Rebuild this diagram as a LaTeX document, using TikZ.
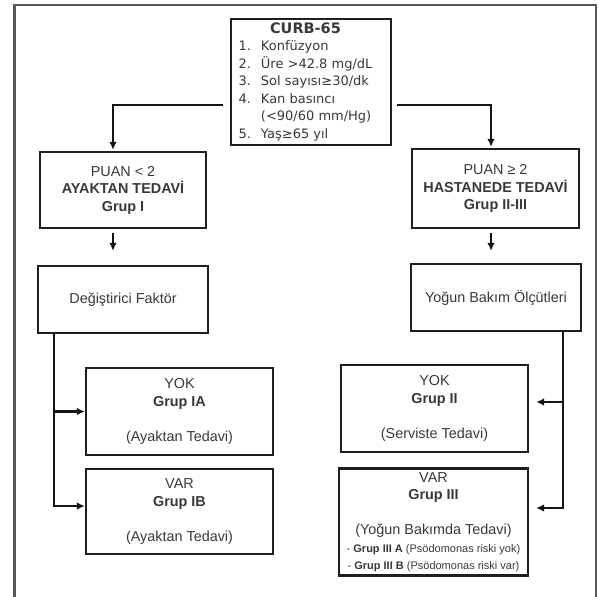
\documentclass[tikz,border=0pt]{standalone}
\usepackage{fontspec}
\setmainfont{Liberation Sans}
\newfontfamily\verdfont{DejaVu Sans}
\usetikzlibrary{arrows.meta}
\newcommand\mainsz{\fontsize{14.4pt}{17.5pt}\selectfont}
\newcommand\smallsz{\fontsize{11pt}{16pt}\selectfont}
\newcommand\curbsz{\verdfont\fontsize{13pt}{17.5pt}\selectfont}
\begin{document}
\begin{tikzpicture}[x=1pt,y=-1pt,
  box/.style={draw=black!88, line width=2.2pt, align=center, inner sep=2pt, text=black!78, font=\mainsz},
  conn/.style={line width=2.2pt, draw=black!92},
  arr/.style={conn, -{Latex[length=8pt,width=7.5pt]}},
]
\useasboundingbox (0,0) rectangle (598,597);
\draw[line width=2.2pt, black!65] (14.5,597) -- (14.5,5) -- (596,5) -- (596,597);

\node[box, minimum width=160pt, minimum height=126pt, inner sep=0pt, font=\curbsz] (curb) at (311,82)
 {\hspace*{-11pt}\begin{tabular}{@{}l@{\hspace{10pt}}l@{}}
  \multicolumn{2}{c}{\fontsize{14.5pt}{17.5pt}\selectfont\bfseries CURB-65}\\
  1. & Konfüzyon\\
  2. & Üre >42.8 mg/dL\\
  3. & Sol sayısı≥30/dk\\
  4. & Kan basıncı\\
     & (<90/60 mm/Hg)\\
  5. & Yaş≥65 yıl
 \end{tabular}};

\node[box, minimum width=166pt, minimum height=76pt] (puanL) at (123,190)
 {PUAN < 2\\ \textbf{AYAKTAN TEDAVİ}\\ \textbf{Grup I}};
\node[box, minimum width=170pt, minimum height=67pt] (dL) at (123,299.5) {Değiştirici Faktör};
\node[box, minimum width=167pt, minimum height=79pt] (puanR) at (495.5,188.5)
 {PUAN ≥ 2\\ \textbf{HASTANEDE TEDAVİ}\\ \textbf{Grup II-III}};
\node[box, minimum width=170pt, minimum height=67pt] (yR) at (496,297.5) {Yoğun Bakım Ölçütleri};

\node[box, minimum width=187pt, minimum height=87pt] (IA) at (179.5,411.5)
 {YOK\\ \textbf{Grup IA}\\[17.5pt] (Ayaktan Tedavi)};
\node[box, minimum width=187pt, minimum height=85pt] (IB) at (179.5,511.5)
 {VAR\\ \textbf{Grup IB}\\[17.5pt] (Ayaktan Tedavi)};
\node[box, minimum width=187pt, minimum height=87pt] (II) at (434.5,408.5)
 {YOK\\ \textbf{Grup II}\\[17.5pt] (Serviste Tedavi)};
\node[box, minimum width=189pt, minimum height=107pt] (III) at (433.5,522)
 {VAR\\ \textbf{Grup III}\\[17.5pt] (Yoğun Bakımda Tedavi)\\
  {\smallsz - \textbf{Grup III A} (Psödomonas riski yok)}\\
  {\smallsz - \textbf{Grup III B} (Psödomonas riski var)}};

\coordinate (cL) at (223,105);
\coordinate (cR) at (397,105);
\draw[arr, shorten >=1pt] (cL) -| ([xshift=-10pt]puanL.north);
\draw[arr, shorten >=1pt] (cR) -| ([xshift=-4.5pt]puanR.north);

\draw[arr] ([xshift=-10pt,yshift=-4pt]puanL.south) -- ([xshift=-10pt,yshift=14pt]dL.north);
\draw[arr] ([xshift=-4.5pt,yshift=-4pt]puanR.south) -- ([xshift=-5pt,yshift=12pt]yR.north);

\coordinate (lx) at ([xshift=17pt]dL.south west);
\coordinate (l2) at ([yshift=5.5pt]IB.west);
\draw[arr] (lx) |- (l2);
\draw[arr] (lx |- IA.west) -- (IA.west);

\coordinate (rx) at ([xshift=-19pt]yR.south east);
\coordinate (r1) at ([yshift=6.5pt]II.east);
\coordinate (r2) at ([yshift=14pt]III.east);
\draw[arr, shorten >=7pt] (rx) |- (r2);
\draw[arr, shorten >=7pt] (rx |- r1) -- (r1);
\end{tikzpicture}
\end{document}
